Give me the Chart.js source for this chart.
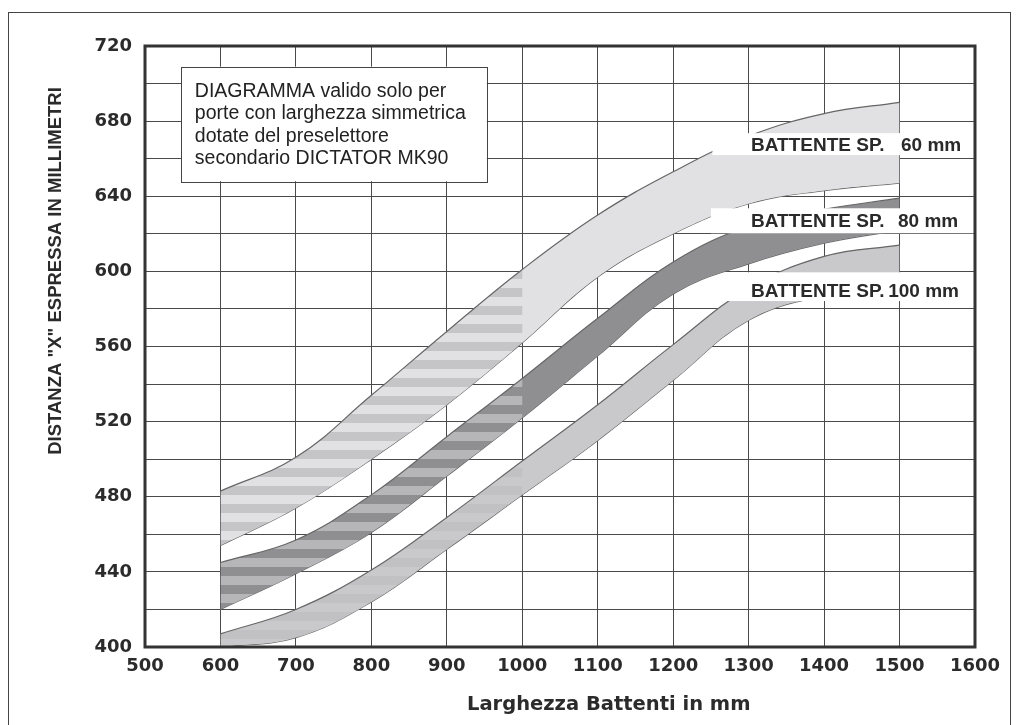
<!DOCTYPE html>
<html lang="it">
<head>
    <meta charset="UTF-8">
    <title>Diagramma battenti</title>
    <script src="https://cdn.jsdelivr.net/npm/chart.js"></script>
    <style>
        body{
            margin: 0;
            background: #fff;
        }
        .box{
            position: relative;
            width: 1019px;
            height: 725px;
            overflow: hidden;
        }
        .cornice{
            position: absolute;
            left: 8px;
            top: 12px;
            width: 1001px;
            height: 760px;
            border: 1px solid #444;
            pointer-events: none;
        }
    </style>
</head>
<body>
    <div class="box">
        <canvas id="myChart"></canvas>
        <div class="cornice"></div>
    </div>
</body>
</html>
<script>
    const larghezza = [600, 700, 800, 900, 1000, 1100, 1200, 1300, 1400, 1500];
    const sp60Sup  = [483, 501, 534, 568, 601, 630, 653, 672, 684, 690];
    const sp60Inf  = [454, 474, 500, 529, 562, 597, 620, 636, 643, 647];
    const sp80Sup  = [445, 457, 481, 512, 543, 575, 605, 624, 633, 639];
    const sp80Inf  = [420, 439, 461, 491, 522, 555, 588, 604, 615, 622];
    const sp100Sup = [407, 420, 441, 469, 499, 529, 561, 591, 608, 614];
    const sp100Inf = [400, 405, 424, 452, 481, 510, 542, 574, 587, 592];

    const etichette = ['60 mm', '80 mm', '100 mm'];
    const nota = [
        'DIAGRAMMA valido solo per',
        'porte con larghezza simmetrica',
        'dotate del preselettore',
        'secondario DICTATOR MK90'
    ];

    const punti = arr => arr.map((v, i) => ({x: larghezza[i], y: v}));

    // fascia a righe orizzontali fino a 1000 mm, piena dopo
    function riempimento(chart, pieno, riga){
        if(!chart.chartArea) return pieno;
        const fine = chart.scales.x.getPixelForValue(1000);
        const c = document.createElement('canvas');
        c.width = chart.width;
        c.height = 18;
        const g = c.getContext('2d');
        g.fillStyle = pieno;
        g.fillRect(0, 0, c.width, 18);
        g.fillStyle = riga;
        g.fillRect(0, 0, fine, 9);
        return chart.ctx.createPattern(c, 'repeat-y');
    }

    function fascia(sup, inf, pieno, riga){
        return [{
            data: punti(sup),
            fill: '+1',
            backgroundColor: (ctx) => riempimento(ctx.chart, pieno, riga),
            borderColor: '#666',
            borderWidth: 1.2,
            pointRadius: 0,
            tension: 0.4
        }, {
            data: punti(inf),
            fill: false,
            borderColor: '#666',
            borderWidth: 1.2,
            pointRadius: 0,
            tension: 0.4
        }];
    }

    const decorazioni = {
        id: 'decorazioni',
        afterDatasetsDraw(chart){
            const {ctx, chartArea: a, scales: {x, y}} = chart;
            ctx.save();

            // riquadro nota
            const bx = x.getPixelForValue(548), by = y.getPixelForValue(709);
            const bw = x.getPixelForValue(953) - bx, bh = y.getPixelForValue(648) - by;
            ctx.fillStyle = '#fff';
            ctx.fillRect(bx, by, bw, bh);
            ctx.strokeStyle = '#444';
            ctx.lineWidth = 1;
            ctx.strokeRect(Math.round(bx) + 0.5, Math.round(by) + 0.5, Math.round(bw), Math.round(bh));
            ctx.fillStyle = '#222';
            ctx.font = '19.5px "Liberation Sans", Arial, sans-serif';
            ctx.textAlign = 'left';
            ctx.textBaseline = 'alphabetic';
            nota.forEach((t, i) => ctx.fillText(t, x.getPixelForValue(566), 97 + i * 22.4));

            // etichette delle fasce
            const box = [[1252, 673.6, 661.9, 664.2, 1502], [1250, 633.6, 620.3, 623.8, 1498], [1271, 599.5, 584.2, 586.5, 1485]];
            ctx.font = 'bold 19px "Liberation Sans", Arial, sans-serif';
            box.forEach((b, i) => {
                const l = x.getPixelForValue(b[0]);
                const t = y.getPixelForValue(b[1]);
                ctx.fillStyle = '#fff';
                ctx.fillRect(l, t, a.right - l, y.getPixelForValue(b[2]) - t);
                ctx.fillStyle = '#2a2a2a';
                ctx.textAlign = 'right';
                ctx.fillText('BATTENTE SP.', x.getPixelForValue(1480), y.getPixelForValue(b[3]));
                ctx.textAlign = 'left';
                ctx.fillText(etichette[i], x.getPixelForValue(b[4]), y.getPixelForValue(b[3]));
            });

            // bordo dell'area del grafico
            ctx.strokeStyle = '#333';
            ctx.lineWidth = 3;
            ctx.strokeRect(a.left, a.top, a.right - a.left, a.bottom - a.top);

            // titoli degli assi
            ctx.fillStyle = '#2b2b2b';
            ctx.font = 'bold 19.5px "DejaVu Sans", sans-serif';
            ctx.textAlign = 'left';
            ctx.fillText('Larghezza Battenti in mm', 467, 710);

            ctx.translate(61, 271);
            ctx.rotate(-Math.PI / 2);
            ctx.textAlign = 'center';
            ctx.font = 'bold 18.5px "Liberation Sans", Arial, sans-serif';
            ctx.fillText('DISTANZA "X" ESPRESSA IN MILLIMETRI', 0, 0);
            ctx.restore();
        }
    };

    const fontTick = {family: 'DejaVu Sans', weight: 'bold', size: 18};

    const ctx = document.querySelector('#myChart');
    const myChart = new Chart(ctx, {
        type: 'line',
        data: {
            datasets: [
                ...fascia(sp60Sup, sp60Inf, '#e1e1e3', '#c5c5c7'),
                ...fascia(sp80Sup, sp80Inf, '#8f8f92', '#b6b6b8'),
                ...fascia(sp100Sup, sp100Inf, '#c9c9cb', '#c1c1c3')
            ]
        },
        options: {
            responsive: true,
            maintainAspectRatio: false,
            animation: false,
            layout: {
                padding: {top: 46, right: 44, left: 0, bottom: 0}
            },
            plugins: {
                legend: {display: false},
                tooltip: {enabled: false}
            },
            scales: {
                x: {
                    type: 'linear',
                    min: 500,
                    max: 1600,
                    ticks: {
                        stepSize: 100,
                        padding: 9,
                        color: '#2b2b2b',
                        font: fontTick,
                        maxRotation: 0,
                        autoSkip: false,
                        callback: v => String(v)
                    },
                    grid: {drawTicks: false, color: '#4a4a4a', lineWidth: 1},
                    border: {display: false},
                    afterFit(s){ s.height = 78; }
                },
                y: {
                    type: 'linear',
                    min: 400,
                    max: 720,
                    ticks: {
                        stepSize: 20,
                        padding: 13,
                        color: '#2b2b2b',
                        font: fontTick,
                        autoSkip: false,
                        callback: v => v % 40 === 0 ? String(v) : ''
                    },
                    grid: {drawTicks: false, color: '#4a4a4a', lineWidth: 1},
                    border: {display: false},
                    afterFit(s){ s.width = 145; }
                }
            }
        },
        plugins: [decorazioni]
    });
</script>
